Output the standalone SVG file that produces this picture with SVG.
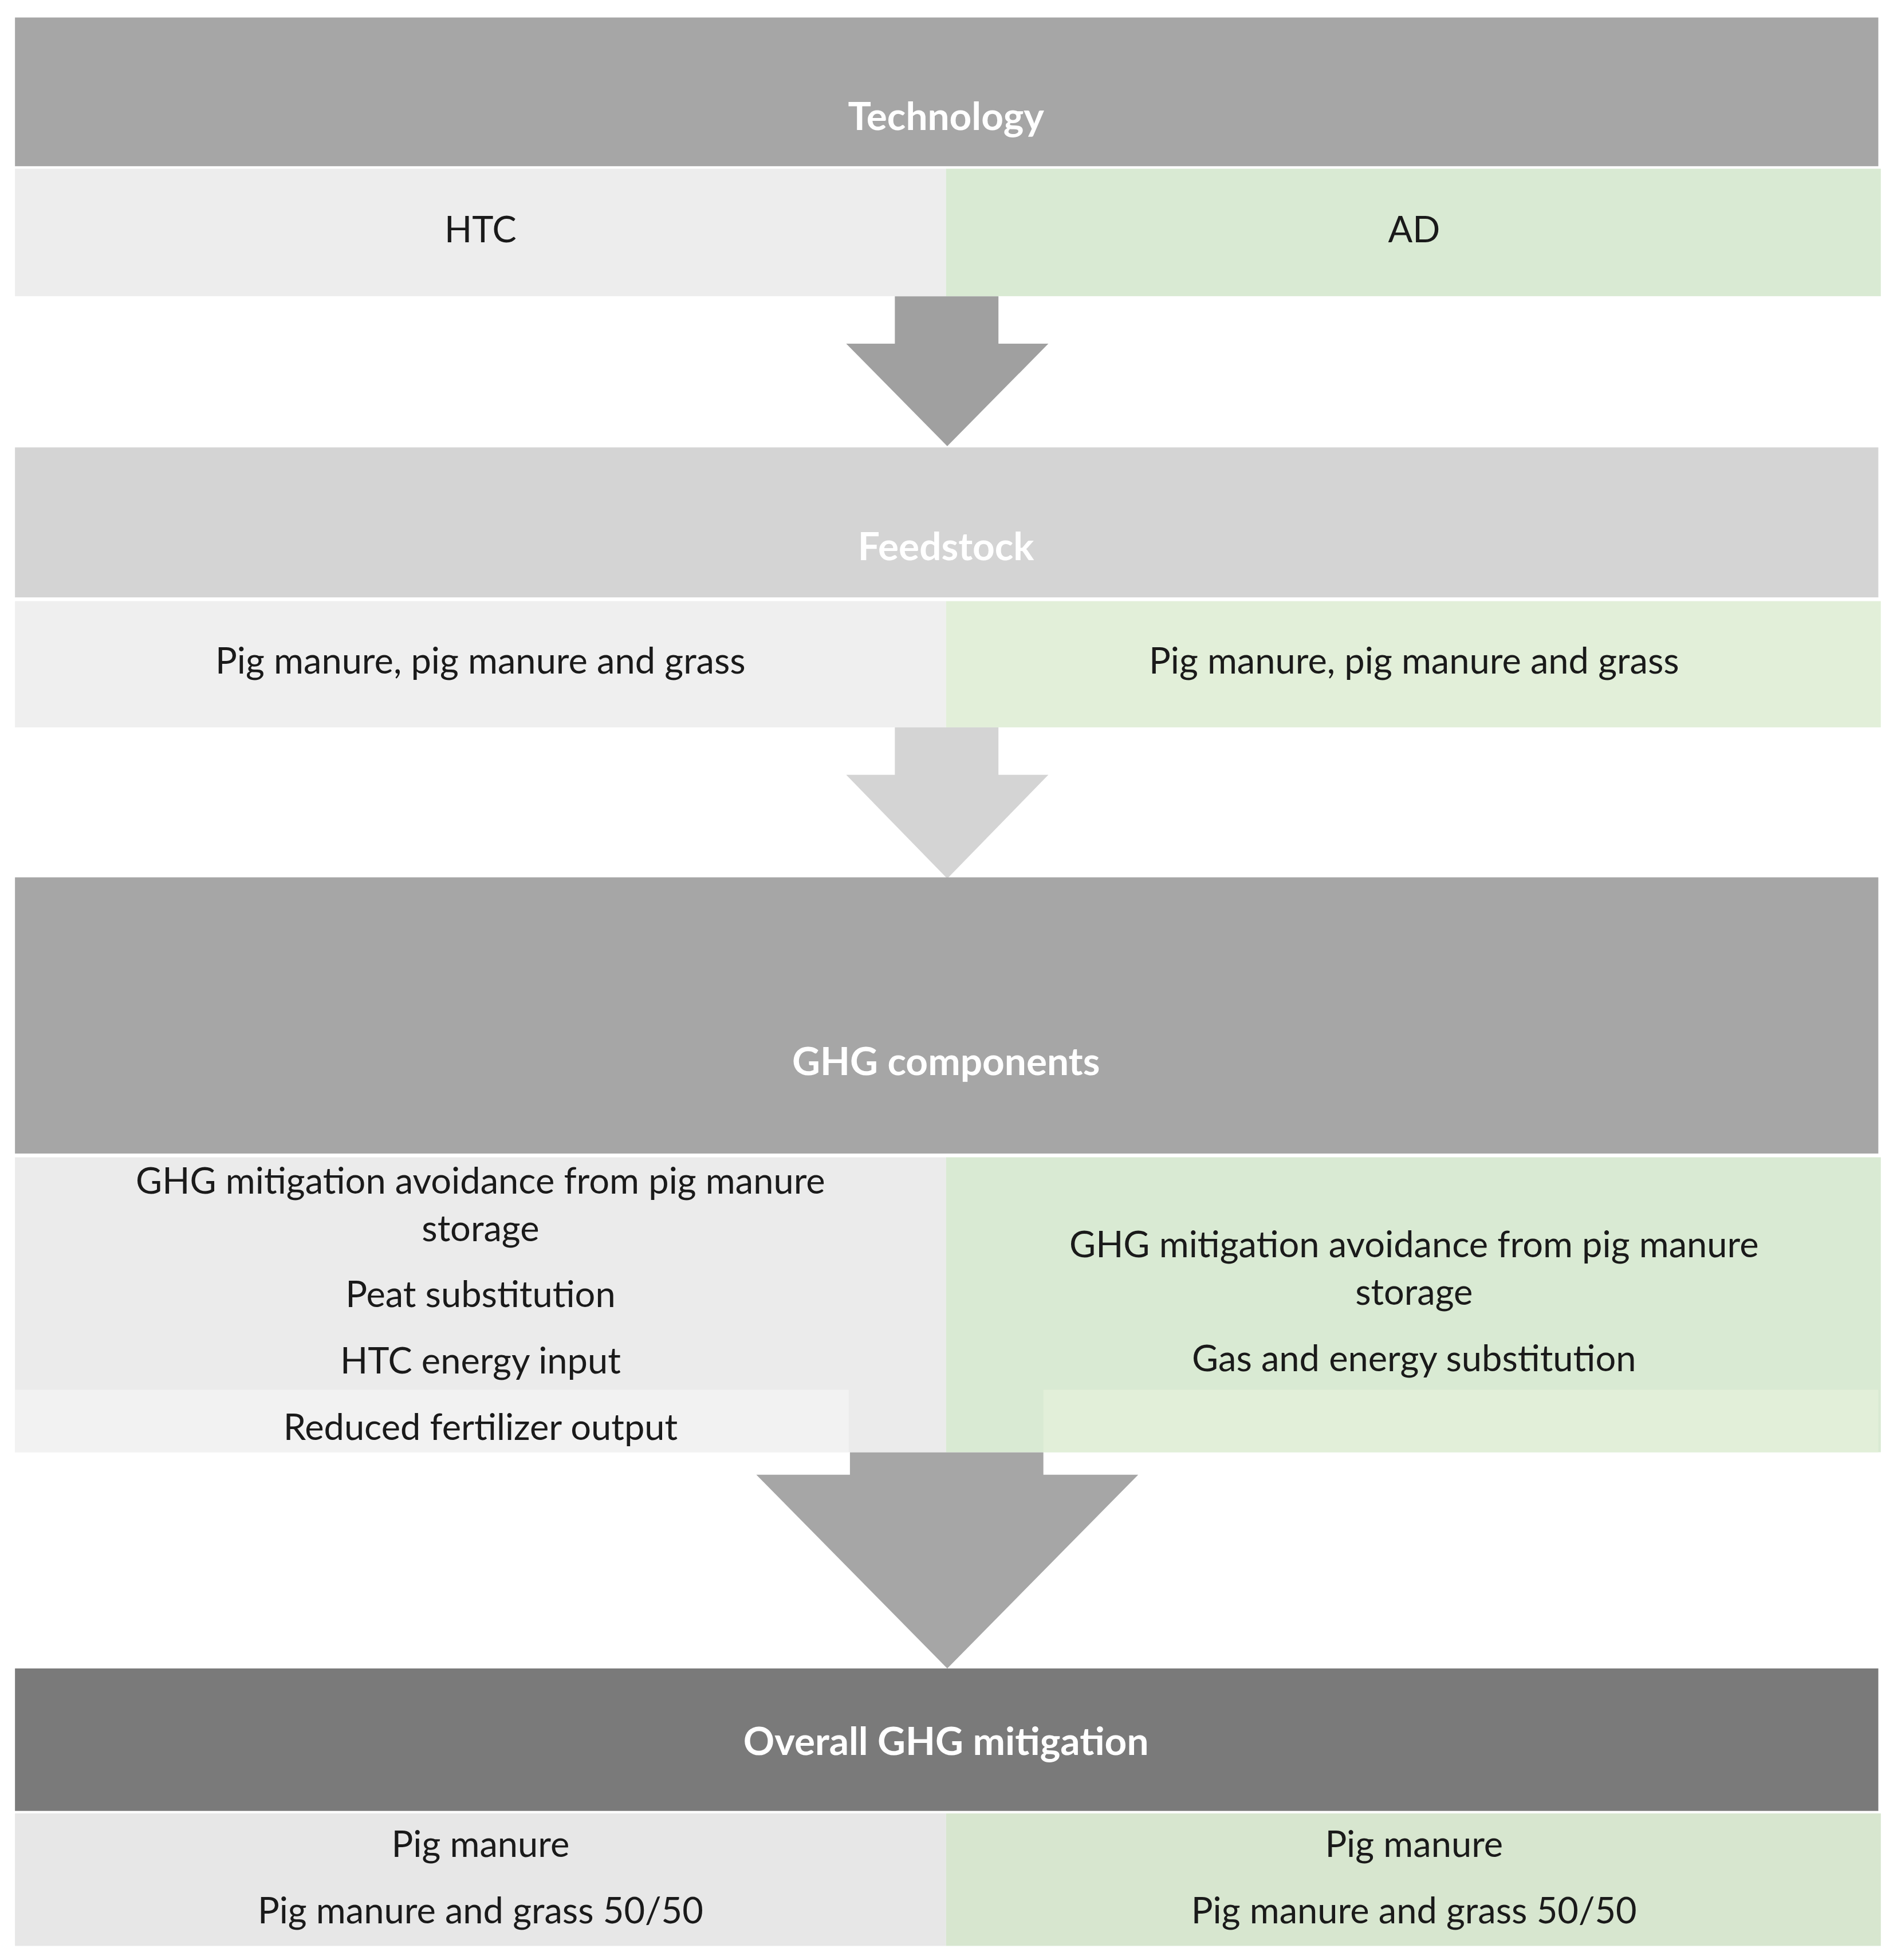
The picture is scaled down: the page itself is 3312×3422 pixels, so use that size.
<svg xmlns="http://www.w3.org/2000/svg" width="3312" height="3422" viewBox="0 0 3312 3422">
<style>
.t{font-family:Lato,"Open Sans","Liberation Sans",sans-serif;font-size:29px;fill:#1a1a1a;text-anchor:middle}
.h{font-family:Lato,"Open Sans","Liberation Sans",sans-serif;font-size:31px;font-weight:bold;fill:#ffffff;text-anchor:middle}
.g{fill:#d9ead3}.l{fill:#ececec}
</style>
<rect width="3312" height="3422" fill="#ffffff"/>
<g transform="scale(2.179,2.182)">
<g id="connectors">
<polygon points="717,237 800,237 800,275 840,275 759,357 678,275 717,275" fill="#a0a0a0"/>
<polygon points="717,582 800,582 800,620 840,620 759,703 678,620 717,620" fill="#d4d4d4"/>
<polygon points="681,1162 836,1162 836,1180 912,1180 759,1335 606,1180 681,1180" fill="#a6a6a6"/>
</g>
<g id="technology">
<rect x="12" y="14" width="1493" height="119" fill="#a6a6a6"/>
<text class="h" x="758" y="104">Technology</text>
<rect x="12" y="135" width="746" height="102" fill="#ededed"/>
<rect x="758" y="135" width="749" height="102" class="g"/>
<text class="t" x="385" y="194">HTC</text>
<text class="t" x="1133" y="194">AD</text>
</g>
<g id="feedstock">
<rect x="12" y="358" width="1493" height="120" fill="#d4d4d4"/>
<text class="h" x="758" y="448">Feedstock</text>
<rect x="12" y="481" width="746" height="101" fill="#efefef"/>
<rect x="758" y="481" width="749" height="101" fill="#e2efd9"/>
<text class="t" x="385" y="539">Pig manure, pig manure and grass</text>
<text class="t" x="1133" y="539">Pig manure, pig manure and grass</text>
</g>
<g id="ghg">
<rect x="12" y="702" width="1493" height="221" fill="#a6a6a6"/>
<text class="h" x="758" y="860">GHG components</text>
<rect x="12" y="926" width="746" height="236" fill="#ebebeb"/>
<rect x="758" y="926" width="749" height="236" class="g"/>
<rect x="12" y="1112" width="668" height="50" fill="#f2f2f2"/>
<rect x="836" y="1112" width="669" height="50" fill="#e2efd9"/>
<text class="t" x="385" y="955">GHG mitigation avoidance from pig manure</text>
<text class="t" x="385" y="993">storage</text>
<text class="t" x="385" y="1046">Peat substitution</text>
<text class="t" x="385" y="1099">HTC energy input</text>
<text class="t" x="385" y="1152">Reduced fertilizer output</text>
<text class="t" x="1133" y="1006">GHG mitigation avoidance from pig manure</text>
<text class="t" x="1133" y="1044">storage</text>
<text class="t" x="1133" y="1097">Gas and energy substitution</text>
</g>
<g id="overall">
<rect x="12" y="1335" width="1493" height="114" fill="#7a7a7a"/>
<text class="h" x="758" y="1404">Overall GHG mitigation</text>
<rect x="12" y="1451" width="746" height="106" fill="#e7e7e7"/>
<rect x="758" y="1451" width="749" height="106" fill="#d7e6cf"/>
<text class="t" x="385" y="1486">Pig manure</text>
<text class="t" x="385" y="1539">Pig manure and grass 50/50</text>
<text class="t" x="1133" y="1486">Pig manure</text>
<text class="t" x="1133" y="1539">Pig manure and grass 50/50</text>
</g>
</g>
</svg>
